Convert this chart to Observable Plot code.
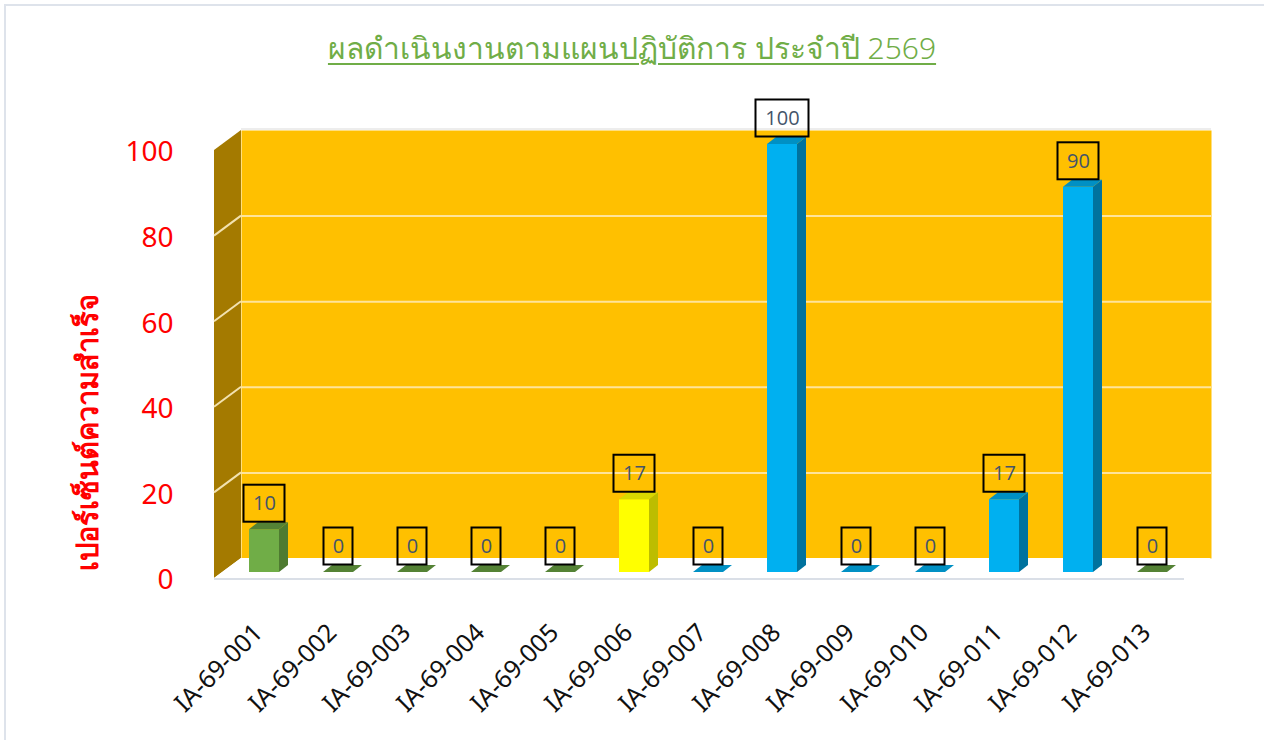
<!DOCTYPE html>
<html>
<head>
<meta charset="utf-8">
<script src="https://cdn.jsdelivr.net/npm/d3@7"></script>
<script src="https://cdn.jsdelivr.net/npm/@observablehq/plot@0.6"></script>
<style>
  html, body { margin: 0; padding: 0; background: #ffffff; }
  #wrap { position: relative; width: 1264px; height: 740px; overflow: hidden; font-family: "Noto Sans", sans-serif; }
  #border { position: absolute; left: 4px; top: 4px; width: 1280px; height: 760px; border-left: 2px solid #DEE3EB; border-top: 2px solid #DEE3EB; pointer-events: none; }
  #title { height: 90px; box-sizing: border-box; padding-top: 28px; text-align: center; }
  #title span { font-size: 30px; font-weight: 300; line-height: 40px; color: #70AD47; text-decoration: underline; text-underline-offset: 4px; text-decoration-thickness: 2px; }
  #chart svg { display: block; }
</style>
</head>
<body>
<div id="wrap">
  <div id="title"><span>ผลดำเนินงานตามแผนปฏิบัติการ ประจำปี 2569</span></div>
  <div id="chart"></div>
  <div id="border"></div>
</div>
<script>
// ---- data ----
const categories = ["IA-69-001","IA-69-002","IA-69-003","IA-69-004","IA-69-005","IA-69-006","IA-69-007","IA-69-008","IA-69-009","IA-69-010","IA-69-011","IA-69-012","IA-69-013"];
const values = [10, 0, 0, 0, 0, 17, 0, 100, 0, 0, 17, 90, 0];
const barGroups = ["green","green","green","green","green","yellow","blue","blue","blue","blue","blue","blue","green"];
const yTicks = [0, 20, 40, 60, 80, 100];
const gridValues = [20, 40, 60, 80];
const yTitle = "เปอร์เซ็นต์ความสำเร็จ";

// ---- styles ----
const palette = {
  green:  { front: "#70AD47", side: "#4E7B31", top: "#548235" },
  yellow: { front: "#FFFF00", side: "#BDBD00", top: "#D8D800" },
  blue:   { front: "#00B0F0", side: "#00729E", top: "#0090C4" }
};
const BACK = { dx: 18, dy: -14 };   // back wall offset from bar plane
const AXIS = { dx: -9, dy: 6 };     // front (axis) plane offset from bar plane
const DEPTH = { dx: 9, dy: -7 };    // bar depth
const INSET = 22;

const data = categories.map((c, i) => ({ cat: c, value: values[i], group: barGroups[i] }));

const pts = a => a.map(p => p.join(",")).join(" ");

// walls: side wall, floor, side-wall grid lines
function walls(index, scales, vals, dims) {
  const y = scales.y;
  const xl = dims.marginLeft, xr = dims.width - dims.marginRight;
  const y0 = y(0), y1 = y(100);
  const g = d3.create("svg:g");
  g.append("polygon")
    .attr("points", pts([[xl + AXIS.dx, y1 + AXIS.dy], [xl + BACK.dx, y1 + BACK.dy], [xl + BACK.dx, y0 + BACK.dy], [xl + AXIS.dx, y0 + AXIS.dy]]))
    .attr("fill", "#A47A00");
  for (const v of gridValues) {
    g.append("line")
      .attr("x1", xl + AXIS.dx).attr("y1", y(v) + AXIS.dy)
      .attr("x2", xl + BACK.dx).attr("y2", y(v) + BACK.dy)
      .attr("stroke", "#F2E2B0").attr("stroke-width", 2);
  }
  g.append("polygon")
    .attr("points", pts([[xl + AXIS.dx, y0 + AXIS.dy], [xl + BACK.dx, y0 + BACK.dy], [xr + BACK.dx, y0 + BACK.dy], [xr + AXIS.dx, y0 + AXIS.dy]]))
    .attr("fill", "#FFFFFF");
  g.append("line")
    .attr("x1", xl + AXIS.dx).attr("y1", y0 + AXIS.dy + 1)
    .attr("x2", xr + AXIS.dx).attr("y2", y0 + AXIS.dy + 1)
    .attr("stroke", "#DADFE7").attr("stroke-width", 2);
  g.append("line")
    .attr("x1", xl + BACK.dx).attr("y1", y1 + BACK.dy - 1)
    .attr("x2", xr + BACK.dx).attr("y2", y1 + BACK.dy - 1)
    .attr("stroke", "#EDEDED").attr("stroke-width", 2);
  return g.node();
}

// bar side and top faces
function barFaces(index, scales) {
  const x = scales.x, y = scales.y, bw = x.bandwidth();
  const g = d3.create("svg:g");
  for (const d of data) {
    const c = palette[d.group];
    const x0 = x(d.cat) + INSET, x1 = x(d.cat) + bw - INSET;
    const yt = y(d.value), yb = y(0);
    g.append("polygon")
      .attr("points", pts([[x1, yb], [x1, yt], [x1 + DEPTH.dx, yt + DEPTH.dy], [x1 + DEPTH.dx, yb + DEPTH.dy]]))
      .attr("fill", c.side);
    g.append("polygon")
      .attr("points", pts([[x0, yt], [x1, yt], [x1 + DEPTH.dx, yt + DEPTH.dy], [x0 + DEPTH.dx, yt + DEPTH.dy]]))
      .attr("fill", c.top);
  }
  return g.node();
}

// data label boxes
function labelBoxes(index, scales) {
  const x = scales.x, y = scales.y, bw = x.bandwidth();
  const g = d3.create("svg:g");
  for (const d of data) {
    const n = String(d.value).length;
    const w = 17 + 12 * n, h = 37;
    const cx = x(d.cat) + bw / 2, cy = y(d.value) - 26;
    g.append("rect")
      .attr("x", cx - w / 2).attr("y", cy - h / 2)
      .attr("width", w).attr("height", h)
      .attr("fill", "none").attr("stroke", "#000").attr("stroke-width", 2);
  }
  return g.node();
}

const plot = Plot.plot({
  width: 1264,
  height: 650,
  marginTop: 54,
  marginBottom: 168,
  marginLeft: 223,
  marginRight: 71,
  style: { background: "transparent", overflow: "visible", fontFamily: "Noto Sans, sans-serif" },
  x: { domain: categories, padding: 0, label: null },
  y: { domain: [0, 100], label: null },
  marks: [
    Plot.frame({ fill: "#FFC000", stroke: "none", dx: BACK.dx, dy: BACK.dy }),
    Plot.ruleY(gridValues, { stroke: "#FFE49A", strokeWidth: 2, dx: BACK.dx, dy: BACK.dy }),
    walls,
    Plot.barY(data, { x: "cat", y: "value", fill: d => palette[d.group].front, insetLeft: INSET, insetRight: INSET }),
    barFaces,
    labelBoxes,
    Plot.text(data, { x: "cat", y: "value", text: d => String(d.value), dy: -26, fontSize: 20, fill: "#44546A", fontFamily: "Open Sans, sans-serif" }),
    Plot.axisY(yTicks, { tickSize: 0, tickPadding: 50, dy: 8, fontSize: 28, fill: "#FF0000", label: null }),
    Plot.axisX({ tickSize: 0, tickPadding: 56, tickRotate: -45, fontSize: 25, fill: "#111", label: null, dx: -6 }),
    Plot.text([yTitle], { frameAnchor: "left", textAnchor: "middle", rotate: -90, dx: -135, dy: 74, fontSize: 29, fontWeight: "bold", fill: "#FF0000" })
  ]
});
document.getElementById("chart").appendChild(plot);
</script>
</body>
</html>
